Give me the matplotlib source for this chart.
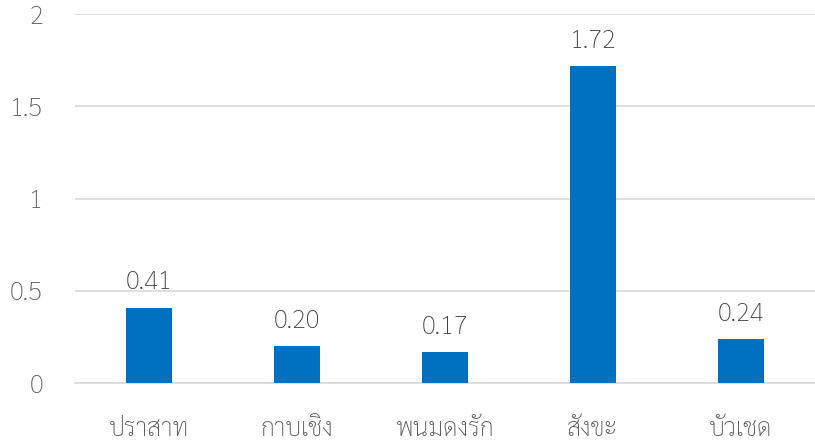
import matplotlib
matplotlib.use('Agg')
import matplotlib.pyplot as plt

# data
categories = ['ปราสาท', 'กาบเชิง', 'พนมดงรัก', 'สังขะ', 'บัวเชด']
values = [0.41, 0.20, 0.17, 1.72, 0.24]
yticks = [0, 0.5, 1, 1.5, 2]
ytick_labels = ['0', '0.5', '1', '1.5', '2']

plt.rcParams['font.family'] = ['Sarabun', 'DejaVu Sans']
plt.rcParams['font.weight'] = 'light'

fig = plt.figure(figsize=(8.15, 4.43), dpi=100)
ax = fig.add_axes([0.092, 0.135, 0.908, 0.833])

x = list(range(len(categories)))
ax.bar(x, values, width=0.31, color='#0070C0', zorder=3)

# value labels above each bar
for xi, v in zip(x, values):
    ax.annotate(f'{v:.2f}', (xi, v), xytext=(0, 13), textcoords='offset points',
                ha='center', va='baseline', fontsize=18.5, color='#404040')

ax.set_xlim(-0.5, len(categories) - 0.5)
ax.set_ylim(0, 2)
ax.set_yticks(yticks)
ax.set_yticklabels(ytick_labels)
ax.set_xticks(x)
ax.set_xticklabels(categories)

ax.yaxis.grid(True, color='#D9D9D9', linewidth=1.2, zorder=0)
for s in ['top', 'right', 'left']:
    ax.spines[s].set_visible(False)
ax.spines['bottom'].set_color('#D9D9D9')
ax.spines['bottom'].set_linewidth(1.2)
ax.tick_params(axis='both', length=0, colors='#595959')
ax.tick_params(axis='y', labelsize=18.5, pad=23)
ax.tick_params(axis='x', labelsize=18, pad=24)

fig.savefig('out.png', dpi=100)
